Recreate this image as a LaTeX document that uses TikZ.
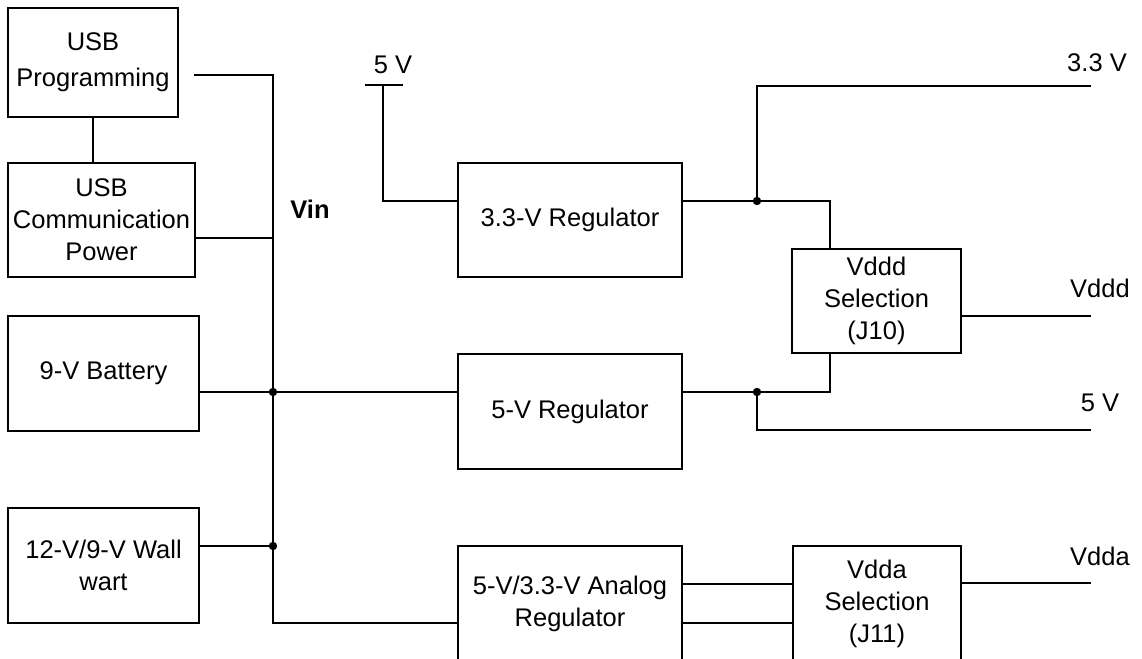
\documentclass[tikz,border=0pt]{standalone}
\usepackage{fontspec}
\setmainfont{Liberation Sans}
\begin{document}
\begin{tikzpicture}[x=1pt,y=-1pt,
  box/.style={draw=black, line width=1.2pt, inner sep=0pt, outer sep=0pt, align=center,
    font=\fontsize{25.5}{32}\selectfont},
  wire/.style={draw=black, line width=1.2pt},
  lbl/.style={inner sep=0pt, font=\fontsize{25.5}{32}\selectfont},
  dot/.style={fill=black}]
\clip (0,0) rectangle (1142,658);
% boxes
\node[box, minimum width=170, minimum height=109] (usbp) at (93,62.5) {USB\\[4pt]Programming};
\node[box, minimum width=187, minimum height=114] (usbc) at (101.5,220) {USB\\Communication\\Power};
\node[box, minimum width=191, minimum height=115] (batt) at (103.5,373.5) {9-V Battery};
\node[box, minimum width=191, minimum height=115] (wall) at (103.5,565.5) {12-V/9-V Wall\\wart};
\node[box, minimum width=224, minimum height=114] (reg33) at (570,220) {3.3-V Regulator};
\node[box, minimum width=224, minimum height=115] (reg5) at (570,411.5) {5-V Regulator};
\node[box, minimum width=224, minimum height=116] (ana) at (570,604) {5-V/3.3-V Analog\\Regulator};
\node[box, minimum width=169, minimum height=104] (vddd) at (876.5,301) {Vddd\\Selection\\(J10)};
\node[box, minimum width=168, minimum height=116] (vdda) at (877,604) {Vdda\\Selection\\(J11)};
% labels
\node[lbl, font=\fontsize{25.5}{32}\selectfont\bfseries] (vin) at (310,209) {Vin};
\node[lbl] (l5in) at (393,65) {5 V};
\node[lbl] (l33) at (1097,63) {3.3 V};
\node[lbl] (lvddd) at (1100,288) {Vddd};
\node[lbl] (l5out) at (1100,403) {5 V};
\node[lbl] (lvdda) at (1100,556) {Vdda};
% coordinates
\coordinate (usbpout) at (194,75);
\coordinate (busbot) at (273,623);
\coordinate (jbatt) at (273,392);
\coordinate (jwall) at (273,546);
\coordinate (stubL) at (365,85);
\coordinate (stubR) at (403,85);
\coordinate (stubM) at (383,85);
\coordinate (j33) at (757,201);
\coordinate (j5) at (757,392);
\coordinate (o33) at (1091,86);
\coordinate (ovddd) at (1091,316);
\coordinate (o5) at (1091,430);
\coordinate (ovdda) at (1091,583);
% wires
\draw[wire] (usbp.south) -- (usbp.south |- usbc.north);
\draw[wire] (usbpout) -| (busbot) -- (busbot -| ana.west);
\draw[wire] (usbc.east |- 0,238) -- (busbot |- 0,238);
\draw[wire] (batt.east |- jbatt) -- (jbatt) -- (jbatt -| reg5.west);
\draw[wire] (wall.east |- jwall) -- (jwall);
\draw[wire] (stubL) -- (stubR);
\draw[wire] (stubM) |- (reg33.west |- j33);
\draw[wire] (reg33.east |- j33) -- (j33) -- (830,201) -- (830,0 |- vddd.north);
\draw[wire] (j33) |- (o33);
\draw[wire] (reg5.east |- j5) -- (j5) -- (830,392) -- (830,0 |- vddd.south);
\draw[wire] (j5) |- (o5);
\draw[wire] (vddd.east |- ovddd) -- (ovddd);
\draw[wire] (ana.east |- 0,584) -- (vdda.west |- 0,584);
\draw[wire] (ana.east |- 0,623) -- (vdda.west |- 0,623);
\draw[wire] (vdda.east |- ovdda) -- (ovdda);
% junction dots
\fill[dot] (jbatt) circle[radius=4.2pt];
\fill[dot] (jwall) circle[radius=4.2pt];
\fill[dot] (j33) circle[radius=4.2pt];
\fill[dot] (j5) circle[radius=4.2pt];
\end{tikzpicture}
\end{document}
